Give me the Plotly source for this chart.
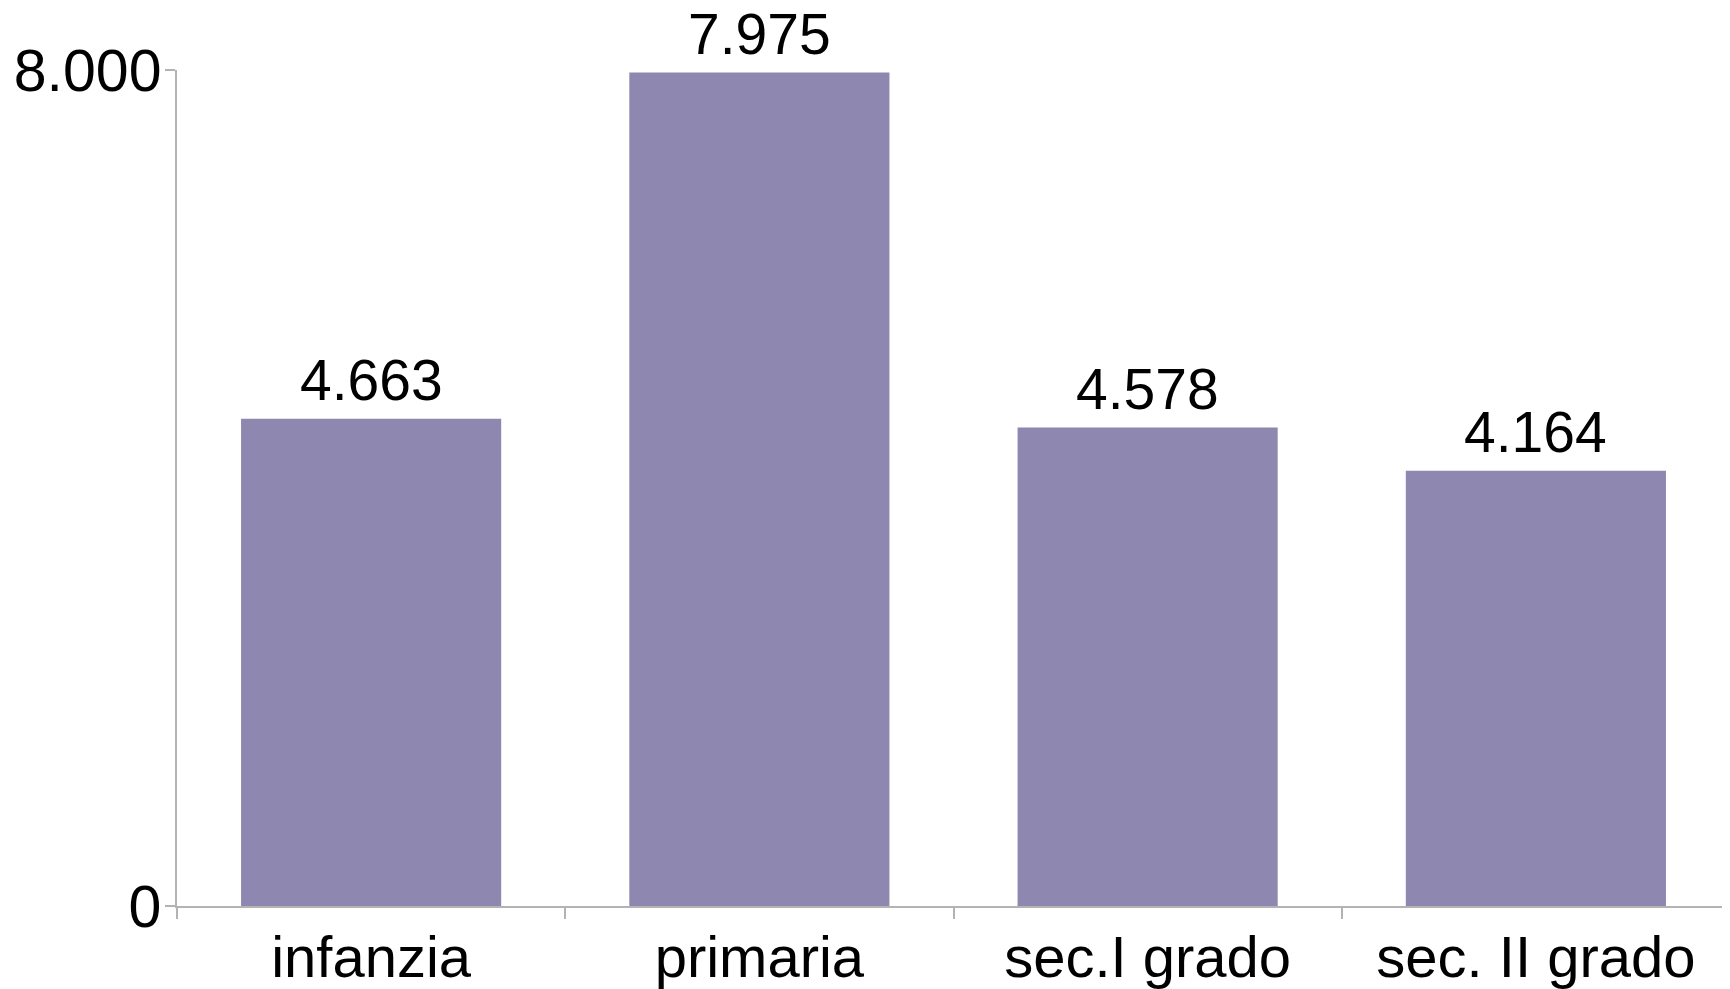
import plotly.graph_objects as go

categories = ["infanzia", "primaria", "sec.I grado", "sec. II grado"]
values = [4663, 7975, 4578, 4164]
y_ticks = [0, 8000]

bar_color = "#8E87AF"
axis_color = "#B3B3B3"
font_family = "Liberation Sans, Arial, sans-serif"

fig = go.Figure()
fig.add_trace(go.Bar(
    x=categories,
    y=values,
    marker=dict(color=bar_color, line=dict(width=0)),
    hoverinfo="skip",
))

for c, v in zip(categories, values):
    fig.add_annotation(
        x=c, y=v, text=f"{v:,}".replace(",", "."),
        showarrow=False, yanchor="bottom", yshift=5,
        font=dict(family=font_family, size=57, color="black"),
    )

fig.update_layout(
    width=1722, height=981,
    margin=dict(l=169, r=0, t=62, b=83, autoexpand=False),
    paper_bgcolor="white", plot_bgcolor="white",
    bargap=0.33,
    separators=",.",
    showlegend=False,
    font=dict(family=font_family, size=57, color="black"),
)
fig.update_xaxes(
    showline=True, linecolor=axis_color, linewidth=1.5,
    ticks="outside", tickson="boundaries", ticklen=11, tickcolor=axis_color,
    tickwidth=1.5, showgrid=False, automargin=False,
    tickfont=dict(family=font_family, size=58, color="black"),
)
fig.update_yaxes(
    range=[0, 8000], tickvals=y_ticks, tickformat=",d",
    showline=True, linecolor=axis_color, linewidth=1.5,
    ticks="outside", ticklen=10, tickcolor=axis_color, tickwidth=1.5,
    ticklabelstandoff=-8,
    showgrid=False, zeroline=False, automargin=False,
    tickfont=dict(family=font_family, size=59, color="black"),
)

fig.write_html("out.html")
